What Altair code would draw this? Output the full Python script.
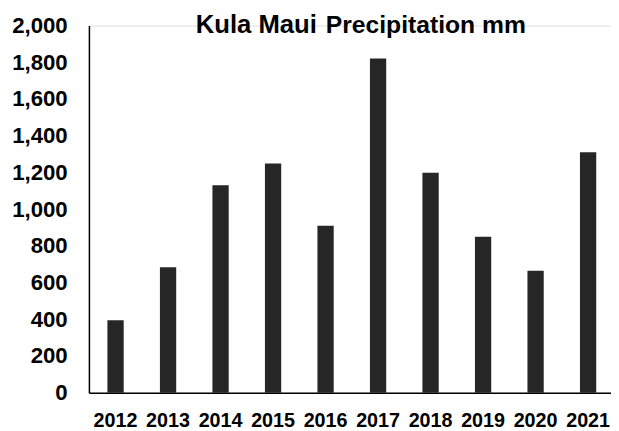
import altair as alt
import pandas as pd

years = ["2012", "2013", "2014", "2015", "2016", "2017", "2018", "2019", "2020", "2021"]
precip_mm = [395, 683, 1130, 1249, 909, 1820, 1198, 850, 665, 1310]
title_main = "Kula Maui"
title_sub = "Precipitation mm"

df = pd.DataFrame({"year": years, "mm": precip_mm})

FONT = "Liberation Sans"

bars = alt.Chart(df).mark_bar(color="#262626").encode(
    x=alt.X(
        "year:N",
        sort=years,
        title=None,
        scale=alt.Scale(paddingInner=0.69, paddingOuter=0.3167, align=0.556),
        axis=alt.Axis(
            labelAngle=0, ticks=False, domainColor="#000000", domainWidth=1.5,
            labelFont=FONT, labelFontWeight="bold", labelFontSize=20,
            labelColor="#000000", labelPadding=18,
        ),
    ),
    y=alt.Y(
        "mm:Q",
        title=None,
        scale=alt.Scale(domain=[0, 2000]),
        axis=alt.Axis(
            values=list(range(0, 2001, 200)), format=",.0f", ticks=False, grid=False,
            domainColor="#000000", domainWidth=1.5,
            labelFont=FONT, labelFontWeight="bold", labelFontSize=22.5,
            labelColor="#000000", labelPadding=22,
        ),
    ),
)

t1 = alt.Chart(pd.DataFrame({"t": [title_main]})).mark_text(
    font=FONT, fontWeight="bold", fontSize=26, align="right", baseline="alphabetic", color="#000000"
).encode(text="t:N", x=alt.value(231), y=alt.value(8))

t2 = alt.Chart(pd.DataFrame({"t": [title_sub]})).mark_text(
    font=FONT, fontWeight="bold", fontSize=25, align="left", baseline="alphabetic", color="#000000"
).encode(text="t:N", x=alt.value(240), y=alt.value(8))

chart = alt.layer(bars, t1, t2).properties(
    width=529, height=372,
    autosize=alt.AutoSizeParams(type="none"),
    padding={"left": 82, "top": 15, "right": 0, "bottom": 36},
).configure_view(stroke=None).configure(background="#ffffff")

chart.save("out.html", embed_options={"renderer": "svg", "actions": False})
